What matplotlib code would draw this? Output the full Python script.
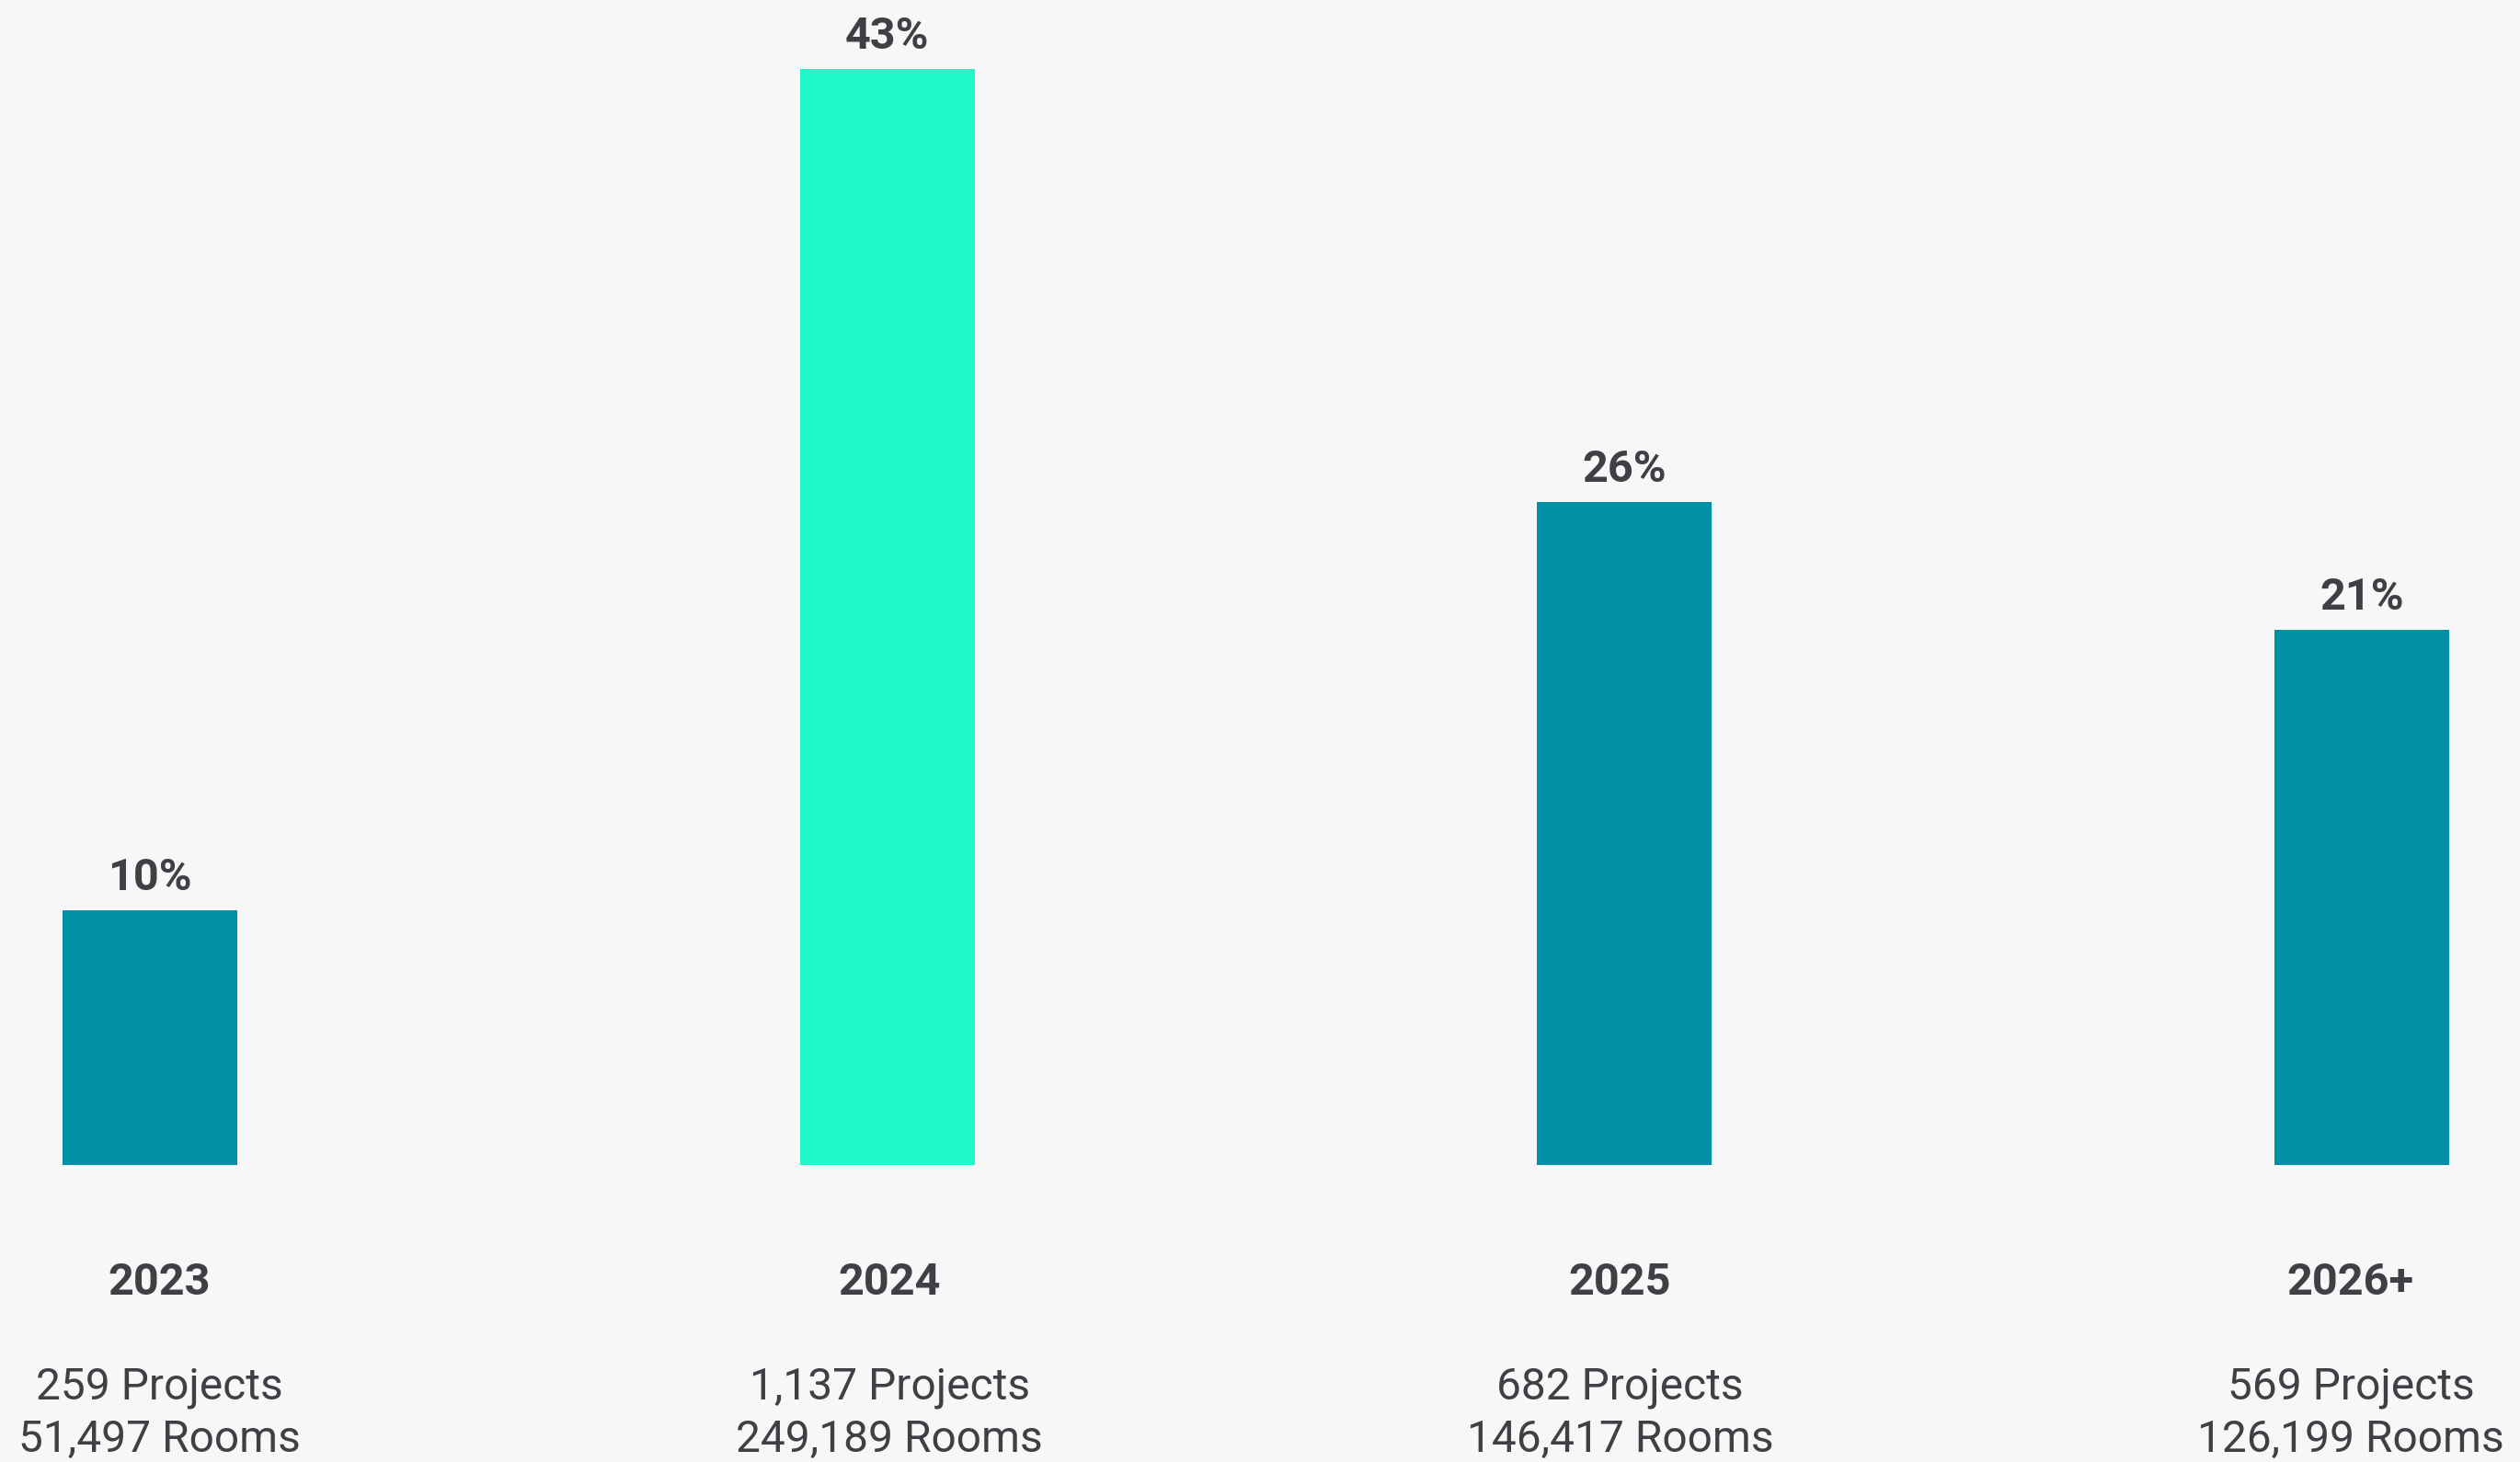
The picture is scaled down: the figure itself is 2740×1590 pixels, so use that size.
import matplotlib
matplotlib.use('Agg')
import matplotlib.pyplot as plt

# Data
years = ['2023', '2024', '2025', '2026+']
shares = [10, 43, 26, 21]
projects = ['259 Projects', '1,137 Projects', '682 Projects', '569 Projects']
rooms = ['51,497 Rooms', '249,189 Rooms', '146,417 Rooms', '126,199 Rooms']
highlight = '2024'

bg = '#f7f7f7'
txt = '#3f4045'
teal = '#0091a7'
mint = '#1ef9c8'

plt.rcParams['font.family'] = ['Roboto', 'DejaVu Sans']

fig = plt.figure(figsize=(27.4, 15.9), dpi=100, facecolor=bg)
ax = fig.add_axes([0, 0, 1, 1])
ax.set_facecolor(bg)

x = list(range(len(years)))
colors = [mint if y == highlight else teal for y in years]
bars = ax.bar(x, shares, width=0.237, color=colors)

ax.set_xlim(-0.2033, 3.2144)
ax.set_ylim(-11.65, 45.71)
ax.axis('off')

# percent labels above bars
for b, v in zip(bars, shares):
    ax.annotate(f'{v}%', (b.get_x() + b.get_width() / 2, v),
                xytext=(0, 16), textcoords='offset points',
                ha='center', va='baseline', fontsize=35,
                fontweight='bold', color=txt)

# category labels below (own axes, slightly different column spacing)
lab = fig.add_axes([0, 0, 1, 1], facecolor='none')
lab.set_xlim(-0.2178, 3.2318)
lab.set_ylim(0, 1)
lab.axis('off')
for xi, yr, p, r in zip(x, years, projects, rooms):
    lab.text(xi, 0.1145, yr, ha='center', va='baseline',
             fontsize=35, fontweight='bold', color=txt)
    lab.text(xi, 0.0428, p, ha='center', va='baseline',
             fontsize=34.5, color=txt)
    lab.text(xi, 0.0068, r, ha='center', va='baseline',
             fontsize=34.5, color=txt)

fig.savefig('out.png', dpi=100, facecolor=bg)
